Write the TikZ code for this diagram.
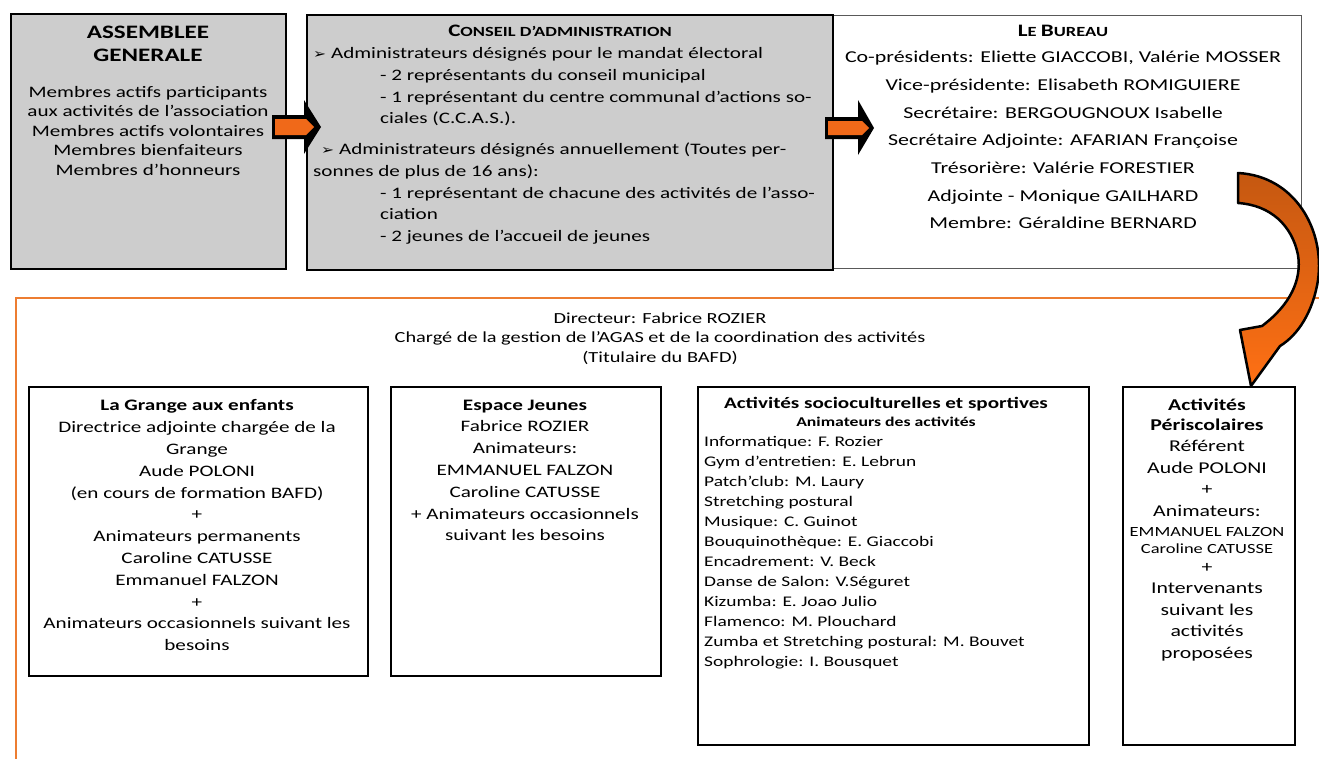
\documentclass[tikz,border=0pt]{standalone}
\usepackage{fontspec}
\setmainfont{Carlito}[FakeStretch=1.32]
\newfontfamily\dejavu{DejaVu Sans}[FakeStretch=1.2]
\definecolor{boxgray}{RGB}{205,205,205}
\definecolor{arrorange}{RGB}{240,105,25}
\definecolor{frameorange}{RGB}{237,125,49}
\definecolor{darkorg}{RGB}{197,88,17}
\definecolor{brightorg}{RGB}{255,112,20}
\newcommand\fs[2]{\fontsize{#1}{#2}\selectfont}
\newcommand\bul{{\dejavu\fontsize{13}{13}\selectfont ➢}}
\newcommand\scA{\fs{17.5}{17}}
\newcommand\scB{\fs{14}{17}}
\begin{document}
\begin{tikzpicture}[x=1pt,y=-1pt,
  graybox/.style={draw=black,line width=1.6pt,fill=boxgray,anchor=north west,inner sep=0pt},
  whitebox/.style={draw=black,line width=1.6pt,fill=white,anchor=north west,inner sep=0pt},
  txt/.style={inner sep=0pt,anchor=north,align=center},
  ltxt/.style={inner sep=0pt,anchor=north west,align=left},
]
\useasboundingbox (0,0) rectangle (1319,758);
\fill[white] (0,0) rectangle (1319,758);

% top boxes
\node[graybox,minimum width=275pt,minimum height=255pt] (ag) at (10,13) {};
\node[draw=gray!70!black,line width=0.8pt,fill=white,anchor=north west,inner sep=0pt,minimum width=469pt,minimum height=253pt] (bu) at (832,15) {};
\node[graybox,minimum width=526pt,minimum height=255pt] (ca) at (306,14) {};

% orange frame
\draw[frameorange,line width=2.5pt] (16,762) -- (16,298) -- (1322,298);

% lower boxes
\node[whitebox,minimum width=339pt,minimum height=289pt] (gr) at (28,386) {};
\node[whitebox,minimum width=270pt,minimum height=289pt] (ej) at (390,386) {};
\node[whitebox,minimum width=391pt,minimum height=358pt] (so) at (697,386) {};
\node[whitebox,minimum width=172pt,minimum height=358pt] (pe) at (1122,386) {};

% block arrows
\fill[black] (272,115) -- (304,115) -- (304,100) -- (321,127) -- (304,154) -- (304,139) -- (272,139) -- cycle;
\fill[arrorange] (275,119) -- (306,119) -- (314,127) -- (306,135) -- (275,135) -- cycle;
\fill[black] (825,117) -- (858,117) -- (858,100) -- (874,128) -- (858,155) -- (858,139) -- (825,139) -- cycle;
\fill[arrorange] (828,121) -- (862,121) -- (869,128) -- (862,135) -- (828,135) -- cycle;

% curved arrow
\shade[top color=darkorg,bottom color=brightorg,draw=black,line width=2.5pt,line join=round]
  (1238,173) .. controls (1295,176) and (1325,230) .. (1318,280)
  .. controls (1313,312) and (1298,335) .. (1280,346)
  -- (1251,386) -- (1240,330) -- (1262,326)
  .. controls (1290,305) and (1302,280) .. (1298,255)
  .. controls (1292,225) and (1270,205) .. (1238,203) -- cycle;

% texts
\node[txt,font=\bfseries\fs{19}{23}] (agt) at (148,26) {ASSEMBLEE\\GENERALE};
\node[txt,font=\fs{16}{19.5}] (agb) at (148,86) {Membres actifs participants\\aux activités de l’association\\Membres actifs volontaires\\Membres bienfaiteurs\\Membres d’honneurs};

\node[txt,font=\bfseries] (cat) at (560,25) {\scA C\scB ONSEIL D’ADMINISTRATION};
\node[ltxt,font=\fs{16}{21.7}] (cab) at (313,47.5) {\bul\ Administrateurs désignés pour le mandat électoral\\
\hspace*{67pt}- 2 représentants du conseil municipal\\
\hspace*{67pt}- 1 représentant du centre communal d’actions so-\\
\hspace*{67pt}ciales (C.C.A.S.).\\[9pt]
\hspace*{8pt}\bul\ Administrateurs désignés annuellement (Toutes per-\\
sonnes de plus de 16 ans):\\
\hspace*{67pt}- 1 représentant de chacune des activités de l’asso-\\
\hspace*{67pt}ciation\\
\hspace*{67pt}- 2 jeunes de l’accueil de jeunes};

\node[txt,font=\bfseries] (but) at (1063,25) {\scA L\scB E \scA B\scB UREAU};
\node[txt,font=\fs{16.6}{27.7}] (bub) at (1063,51) {Co-présidents: Eliette GIACCOBI, Valérie MOSSER\\Vice-présidente: Elisabeth ROMIGUIERE\\Secrétaire: BERGOUGNOUX Isabelle\\Secrétaire Adjointe: AFARIAN Françoise\\Trésorière: Valérie FORESTIER\\Adjointe - Monique GAILHARD\\Membre: Géraldine BERNARD};

\node[txt,font=\fs{15.4}{19.5}] (dir) at (660,312.5) {Directeur: Fabrice ROZIER\\Chargé de la gestion de l’AGAS et de la coordination des activités\\(Titulaire du BAFD)};

\node[txt,font=\fs{16}{21.8}] (grt) at (197,399.5) {\textbf{La Grange aux enfants}\\Directrice adjointe chargée de la\\Grange\\Aude POLONI\\(en cours de formation BAFD)\\+\\Animateurs permanents\\Caroline CATUSSE\\Emmanuel FALZON\\+\\Animateurs occasionnels suivant les\\besoins};

\node[txt,font=\fs{16}{21.8}] (ejt) at (525,399.5) {\textbf{Espace Jeunes}\\Fabrice ROZIER\\Animateurs:\\EMMANUEL FALZON\\Caroline CATUSSE\\+ Animateurs occasionnels\\suivant les besoins};

\node[txt,font=\bfseries\fs{16}{19}] (sot) at (886,397.5) {Activités socioculturelles et sportives};
\node[txt,font=\bfseries\fs{13.4}{15}] (sos) at (886,416.5) {Animateurs des activités};
\node[ltxt,font=\fs{14.7}{20}] (sol) at (704,436) {Informatique: F. Rozier\\Gym d’entretien: E. Lebrun\\Patch’club: M. Laury\\Stretching postural\\Musique: C. Guinot\\Bouquinothèque: E. Giaccobi\\Encadrement: V. Beck\\Danse de Salon: V.Séguret\\Kizumba: E. Joao Julio\\Flamenco: M. Plouchard\\Zumba et Stretching postural: M. Bouvet\\Sophrologie: I. Bousquet};

\node[txt,font=\fs{16.5}{21.5}] (pet) at (1207,398.5) {\textbf{Activités}\\[-1.5pt]\textbf{Périscolaires}\\Référent\\Aude POLONI\\+\\Animateurs:\\[-1.5pt]{\fs{14}{12}EMMANUEL FALZON}\\[-4.5pt]{\fs{14}{12}Caroline CATUSSE}\\[-2.5pt]+\\Intervenants\\suivant les\\activités\\proposées};
\end{tikzpicture}
\end{document}
